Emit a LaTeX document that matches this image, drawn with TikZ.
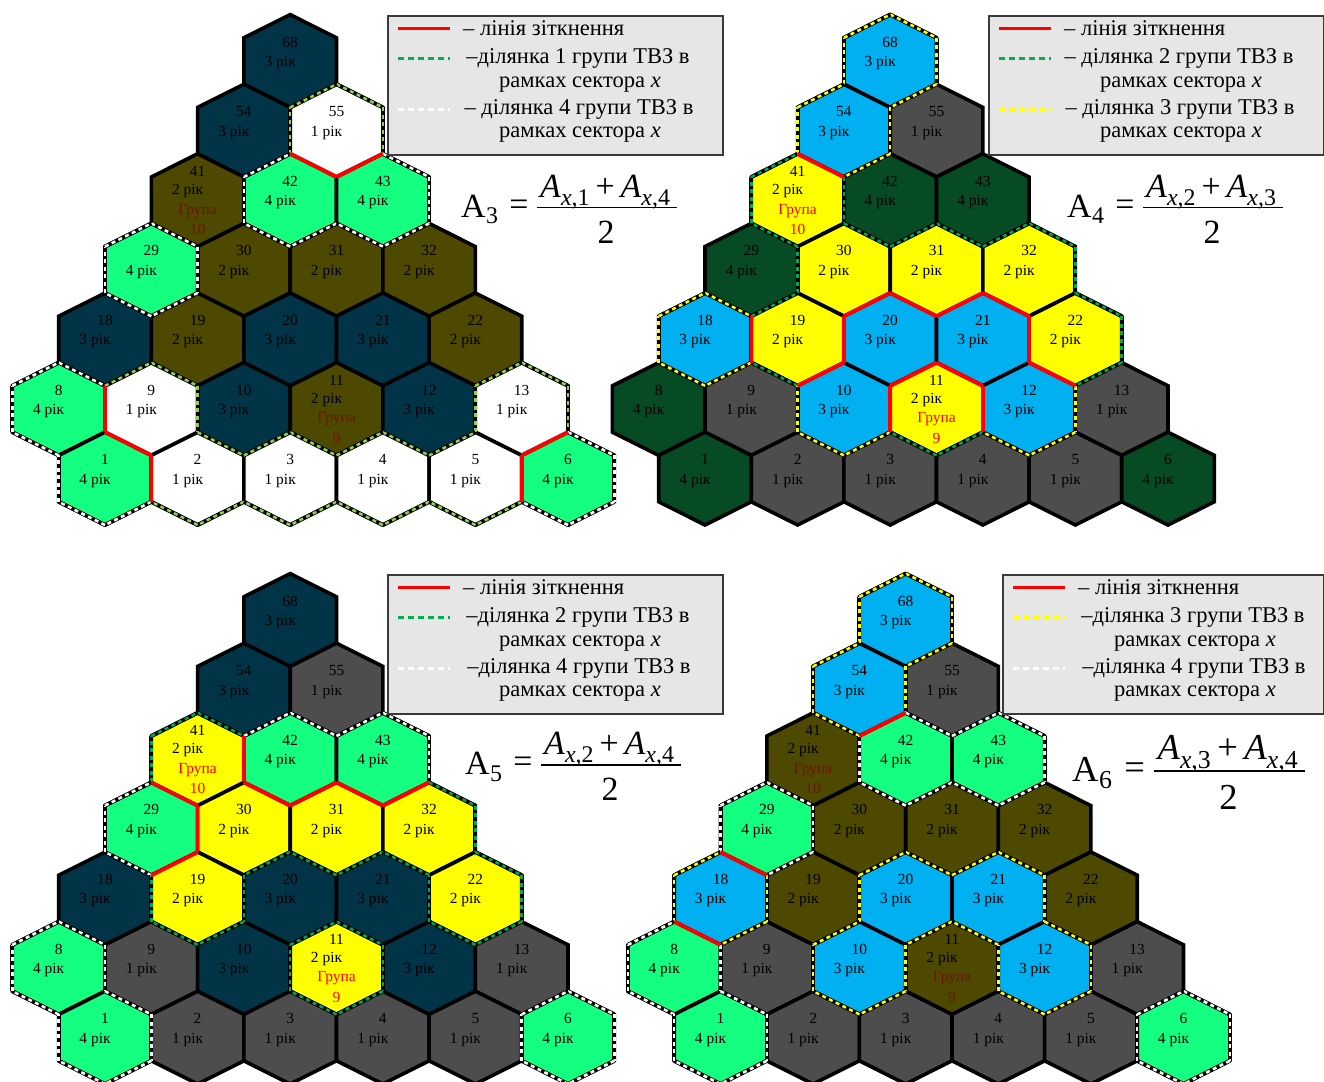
\documentclass[tikz,border=0pt]{standalone}
\usepackage{fontspec}
\setmainfont{Liberation Serif}
\definecolor{cNavy}{HTML}{023447}
\definecolor{cOlive}{HTML}{4E4900}
\definecolor{cGreen}{HTML}{14FF80}
\definecolor{cDkGreen}{HTML}{064B24}
\definecolor{cGrey}{HTML}{4D4D4D}
\definecolor{cCyan}{HTML}{00B0F0}
\definecolor{cYellow}{HTML}{FFFF00}
\definecolor{cLtGreen}{HTML}{92D050}
\definecolor{cMidGreen}{HTML}{00A650}
\definecolor{cLegGreen}{HTML}{00B050}
\definecolor{cRed}{HTML}{FF0000}
\definecolor{cDkRed}{HTML}{6B1500}
\definecolor{cLegBg}{HTML}{E6E6E6}
\definecolor{cLegBorder}{HTML}{3A3A3A}
\tikzset{
  hexcell/.style={line width=3.6bp, draw=black, line join=miter},
  contact/.style={line width=3.6bp, draw=cRed},
  zoneunder/.style={line width=4bp, draw=black},
  zoneover/.style={line width=2.5bp, dash pattern=on 4bp off 3.5bp},
  hexnum/.style={font=\fontsize{15.5}{18}\selectfont, inner sep=0pt},
  legtext/.style={font=\fontsize{22.6}{26}\selectfont, inner sep=0pt},
  legbox/.style={fill=cLegBg, draw=cLegBorder, line width=1.2bp},
  legsample/.style={line width=3bp, dash pattern=on 6bp off 4bp},
  fbig/.style={font=\fontsize{34}{40}\selectfont, inner sep=0pt},
  fsmall/.style={font=\fontsize{24}{28}\selectfont, inner sep=0pt},
}
% number / row / half-column / years / group label
\def\hexdata{68/6/4/3/0,54/5/3/3/0,55/5/5/1/0,41/4/2/2/10,42/4/4/4/0,43/4/6/4/0,29/3/1/4/0,30/3/3/2/0,31/3/5/2/0,32/3/7/2/0,18/2/0/3/0,19/2/2/2/0,20/2/4/3/0,21/2/6/3/0,22/2/8/2/0,8/1/-1/4/0,9/1/1/1/0,10/1/3/3/0,11/1/5/2/9,12/1/7/3/0,13/1/9/1/0,1/0/0/4/0,2/0/2/1/0,3/0/4/1/0,4/0/6/1/0,5/0/8/1/0,6/0/10/4/0}
% neighbour offset (dr/dh) and edge end points
\def\edgedata{1/1/0/-1/1/-0.5,0/2/1/-0.5/1/0.5,-1/1/1/0.5/0/1,-1/-1/0/1/-1/0.5,0/-2/-1/0.5/-1/-0.5,1/-1/-1/-0.5/0/-1}
\newcommand\yrset[3]{\expandafter\xdef\csname yr@#1@#2\endcsname{#3}}
\newcommand\getyr[2]{\ifcsname yr@#1@#2\endcsname\csname yr@#1@#2\endcsname\else0\fi}
\newcommand\drawpanel{%
  % fills
  \foreach \nn/\rr/\hh/\yy/\gg in \hexdata {%
    \pgfmathsetmacro\cx{\pdx+105+46.3*(\hh)}%
    \pgfmathsetmacro\cy{\pdy+478.6-69.6*(\rr)}%
    \edef\fc{\ifcase\yy\or\fcI\or\fcII\or\fcIII\or\fcIV\fi}%
    \draw[hexcell, fill=\fc] ({\cx},{\cy-46.4}) -- ({\cx+46.3},{\cy-23.2}) -- ({\cx+46.3},{\cy+23.2}) -- ({\cx},{\cy+46.4}) -- ({\cx-46.3},{\cy+23.2}) -- ({\cx-46.3},{\cy-23.2}) -- cycle;
  }%
  % zone borders (dashed)
  \foreach \nn/\rr/\hh/\yy/\gg in \hexdata {%
    \pgfmathsetmacro\cx{\pdx+105+46.3*(\hh)}%
    \pgfmathsetmacro\cy{\pdy+478.6-69.6*(\rr)}%
    \def\ingrp{0}%
    \ifnum\yy=\gA\relax \def\ingrp{1}\let\zc\zcA\let\oth\gB\fi
    \ifnum\yy=\gB\relax \def\ingrp{1}\let\zc\zcB\let\oth\gA\fi
    \ifnum\ingrp=1\relax
      \foreach \ddr/\ddh/\xa/\ya/\xb/\yb in \edgedata {%
        \edef\nyr{\getyr{\the\numexpr\rr+\ddr\relax}{\the\numexpr\hh+\ddh\relax}}%
        \ifnum\nyr=\yy\relax\else
          \ifnum\nyr=\oth\relax\else
            \draw[zoneunder] ({\cx+46.3*(\xa)},{\cy+46.4*(\ya)}) -- ({\cx+46.3*(\xb)},{\cy+46.4*(\yb)});
            \draw[zoneover, draw=\zc] ({\cx+46.3*(\xa)},{\cy+46.4*(\ya)}) -- ({\cx+46.3*(\xb)},{\cy+46.4*(\yb)});
          \fi
        \fi
      }%
    \fi
  }%
  % contact lines (red)
  \foreach \nn/\rr/\hh/\yy/\gg in \hexdata {%
    \pgfmathsetmacro\cx{\pdx+105+46.3*(\hh)}%
    \pgfmathsetmacro\cy{\pdy+478.6-69.6*(\rr)}%
    \def\ingrp{0}%
    \ifnum\yy=\gA\relax \def\ingrp{1}\let\oth\gB\fi
    \ifnum\yy=\gB\relax \def\ingrp{1}\let\oth\gA\fi
    \ifnum\ingrp=1\relax
      \foreach \ddr/\ddh/\xa/\ya/\xb/\yb in \edgedata {%
        \edef\nyr{\getyr{\the\numexpr\rr+\ddr\relax}{\the\numexpr\hh+\ddh\relax}}%
        \ifnum\nyr=\oth\relax
          \draw[contact] ({\cx+46.3*(\xa)},{\cy+46.4*(\ya)}) -- ({\cx+46.3*(\xb)},{\cy+46.4*(\yb)});
        \fi
      }%
    \fi
  }%
  % labels
  \foreach \nn/\rr/\hh/\yy/\gg in \hexdata {%
    \pgfmathsetmacro\cx{\pdx+105+46.3*(\hh)}%
    \pgfmathsetmacro\cy{\pdy+478.6-69.6*(\rr)}%
    \ifnum\gg=0\relax
      \node[hexnum] (n\pid-\nn) at ({\cx},{\cy-19}) {\nn};
      \node[hexnum] (y\pid-\nn) at ({\cx-10},{\cy+2}) {\yy~рік};
    \else
      \node[hexnum] (n\pid-\nn) at ({\cx},{\cy-28.5}) {\nn};
      \node[hexnum] (y\pid-\nn) at ({\cx-10},{\cy-9}) {\yy~рік};
      \node[hexnum, text=\grc] (g\pid-\nn) at ({\cx},{\cy+10.5}) {Група};
      \node[hexnum, text=\grc] (h\pid-\nn) at ({\cx},{\cy+29.5}) {\gg};
    \fi
  }%
}
% legend: x, y, width, line2, line4, colour2, colour4, id
\newcommand\drawlegend[8]{%
  \draw[legbox] (#1,#2) rectangle ++(#3,139);
  \draw[line width=3bp, cRed] (#1+10,#2+12) -- (#1+62,#2+12);
  \draw[legsample, draw=#6] (#1+10,#2+42) -- (#1+62,#2+42);
  \draw[legsample, draw=#7] (#1+10,#2+93) -- (#1+62,#2+93);
  \node[legtext, anchor=west] (#8l1) at (#1+75,#2+12) {– лінія зіткнення};
  \node[legtext] (#8l2) at (#1+190,#2+42) {#4};
  \node[legtext] (#8l3) at (#1+192,#2+69) {рамках сектора \textit{x}};
  \node[legtext] (#8l4) at (#1+191,#2+93) {#5};
  \node[legtext] (#8l5) at (#1+192,#2+119) {рамках сектора \textit{x}};
}
% formula: left x, bar y, subscript, n1, n2, scale, id
\newcommand\myformula[7]{%
  \begin{scope}[shift={(#1,#2)}, scale=#6, transform shape]
    \node[fbig, anchor=base west] (#7a) at (0,9.5) {A};
    \node[fsmall, anchor=base west] (#7s) at (25,16) {#3};
    \node[fbig] (#7e) at (58,0) {=};
    \node[fbig, anchor=base west] (#7n) at (79,-10.5) {\textit{A}\raisebox{-8bp}{\fontsize{24}{24}\selectfont\textit{x},#4}\hspace{6bp}+\hspace{6bp}\textit{A}\raisebox{-8bp}{\fontsize{24}{24}\selectfont\textit{x},#5}};
    \draw[line width=1.3bp] (76,0) -- (216,0);
    \node[fbig, anchor=base] (#7d) at (145,35.5) {2};
  \end{scope}%
}
\begin{document}
\begin{tikzpicture}[x=1bp,y=-1bp]
\useasboundingbox (0,0) rectangle (1324,1081);
\fill[white] (0,0) rectangle (1324,1081);
\foreach \nn/\rr/\hh/\yy/\gg in \hexdata {\yrset{\rr}{\hh}{\yy}}
% panel 1
\def\pid{a}\def\pdx{0}\def\pdy{0}
\def\fcI{white}\def\fcII{cOlive}\def\fcIII{cNavy}\def\fcIV{cGreen}
\def\gA{1}\def\gB{4}\def\zcA{cLtGreen}\def\zcB{white}\def\grc{cDkRed}
\drawpanel
% panel 2
\def\pid{b}\def\pdx{600}\def\pdy{0}
\def\fcI{cGrey}\def\fcII{cYellow}\def\fcIII{cCyan}\def\fcIV{cDkGreen}
\def\gA{2}\def\gB{3}\def\zcA{cMidGreen}\def\zcB{cYellow}\def\grc{cRed}
\drawpanel
% panel 3
\def\pid{c}\def\pdx{0}\def\pdy{559}
\def\fcI{cGrey}\def\fcII{cYellow}\def\fcIII{cNavy}\def\fcIV{cGreen}
\def\gA{2}\def\gB{4}\def\zcA{cMidGreen}\def\zcB{white}\def\grc{cRed}
\drawpanel
% panel 4
\def\pid{d}\def\pdx{615.5}\def\pdy{559}
\def\fcI{cGrey}\def\fcII{cOlive}\def\fcIII{cCyan}\def\fcIV{cGreen}
\def\gA{3}\def\gB{4}\def\zcA{cYellow}\def\zcB{white}\def\grc{cDkRed}
\drawpanel
% legends
\drawlegend{388}{16}{335}{–ділянка 1 групи ТВЗ в}{– ділянка 4 групи ТВЗ в}{cLegGreen}{white}{la}
\drawlegend{989}{16}{334.5}{– ділянка 2 групи ТВЗ в}{– ділянка 3 групи ТВЗ в}{cLegGreen}{cYellow}{lb}
\drawlegend{388}{575}{335}{–ділянка 2 групи ТВЗ в}{–ділянка 4 групи ТВЗ в}{cLegGreen}{white}{lc}
\drawlegend{1003}{575}{320.5}{–ділянка 3 групи ТВЗ в}{–ділянка 4 групи ТВЗ в}{cYellow}{white}{ld}
% formulas
\myformula{461}{207.5}{3}{1}{4}{1}{fa}
\myformula{1067}{207.7}{4}{2}{3}{1}{fb}
\myformula{465}{765}{5}{2}{4}{1}{fc}
\myformula{1072}{771}{6}{3}{4}{1.08}{fd}
\end{tikzpicture}
\end{document}
